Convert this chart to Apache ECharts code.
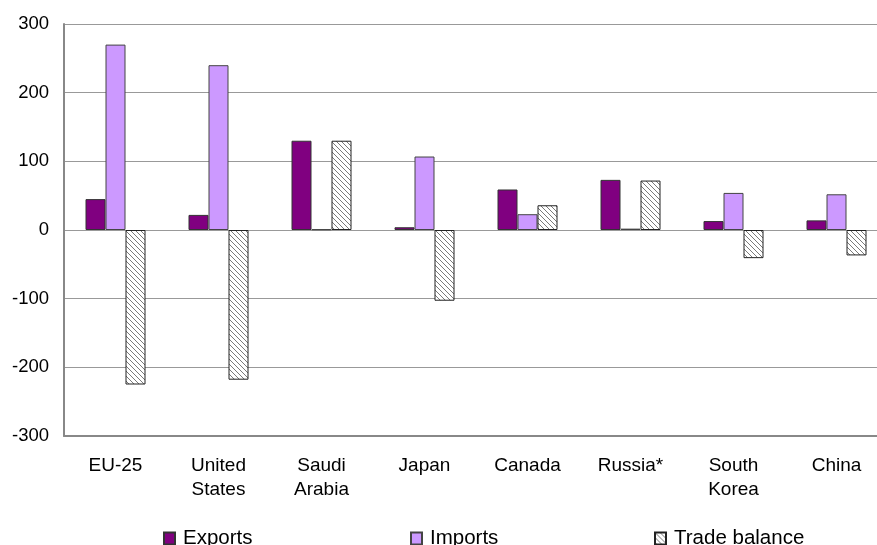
<!DOCTYPE html>
<html>
<head>
<meta charset="utf-8">
<script src="https://cdn.jsdelivr.net/npm/echarts@6/dist/echarts.min.js"></script>
<style>html,body{margin:0;padding:0;background:#fff;overflow:hidden;width:877px;height:545px}#c{width:888px;height:545px}</style>
</head>
<body>
<div id="c"></div>
<script>
const categories = ['EU-25', 'United\nStates', 'Saudi\nArabia', 'Japan', 'Canada', 'Russia*', 'South\nKorea', 'China'];
const exportsData = [45, 22, 130, 4, 59, 73, 13, 14];
const importsData = [270, 240, 1, 107, 23, 2, 54, 52];
const balanceData = [-225, -218, 130, -103, 36, 72, -41, -37];
const yTicks = [-300, -200, -100, 0, 100, 200, 300];

function hatch() {
  const s = 5;
  const cv = document.createElement('canvas');
  cv.width = s; cv.height = s;
  const ctx = cv.getContext('2d');
  ctx.fillStyle = '#fff';
  ctx.fillRect(0, 0, s, s);
  ctx.strokeStyle = '#7a7a7a';
  ctx.lineWidth = 1;
  ctx.beginPath();
  ctx.moveTo(-1, -1); ctx.lineTo(s + 1, s + 1);
  ctx.moveTo(-1, s - 1); ctx.lineTo(1, s + 1);
  ctx.moveTo(s - 1, -1); ctx.lineTo(s + 1, 1);
  ctx.stroke();
  return cv;
}
const hatchPattern = { image: hatch(), repeat: 'repeat' };

const chart = echarts.init(document.getElementById('c'), null, { renderer: 'canvas' });
const font = 'Liberation Sans, Arial, sans-serif';
const legendBase = {
  top: 523, orient: 'horizontal', itemWidth: 11, itemHeight: 12, itemGap: 5,
  icon: 'rect', textStyle: { fontSize: 20.5, fontFamily: font, color: '#000', padding: [0, 0, 0, 3] }
};
chart.setOption({
  animation: false,
  backgroundColor: '#fff',
  grid: { left: 64, top: 24, width: 824, height: 412, containLabel: false },
  legend: [
    Object.assign({}, legendBase, { left: 158, data: ['Exports'] }),
    Object.assign({}, legendBase, { left: 405, data: ['Imports'] }),
    Object.assign({}, legendBase, { left: 649, data: ['Trade balance'] })
  ],
  xAxis: {
    type: 'category',
    data: categories,
    axisLine: { onZero: false, lineStyle: { color: '#888', width: 2 } },
    axisTick: { show: false },
    axisLabel: { fontSize: 19, fontFamily: font, color: '#000', margin: 18, lineHeight: 24, interval: 0 }
  },
  yAxis: {
    type: 'value',
    min: yTicks[0], max: yTicks[yTicks.length - 1], interval: 100,
    axisLine: { show: true, lineStyle: { color: '#888', width: 2 } },
    axisTick: { show: false },
    axisLabel: { fontSize: 18.5, fontFamily: font, color: '#000', margin: 15 },
    splitLine: { show: true, lineStyle: { color: '#999', width: 1 } }
  },
  series: [
    { name: 'Exports', type: 'bar', data: exportsData, barWidth: 20, barGap: '0%',
      itemStyle: { color: '#800080', borderColor: '#333', borderWidth: 1 } },
    { name: 'Imports', type: 'bar', data: importsData, barWidth: 20, barGap: '0%',
      itemStyle: { color: '#CC99FF', borderColor: '#444', borderWidth: 1 } },
    { name: 'Trade balance', type: 'bar', data: balanceData, barWidth: 20, barGap: '0%',
      itemStyle: { color: hatchPattern, borderColor: '#222', borderWidth: 1 } }
  ]
});
</script>
</body>
</html>
